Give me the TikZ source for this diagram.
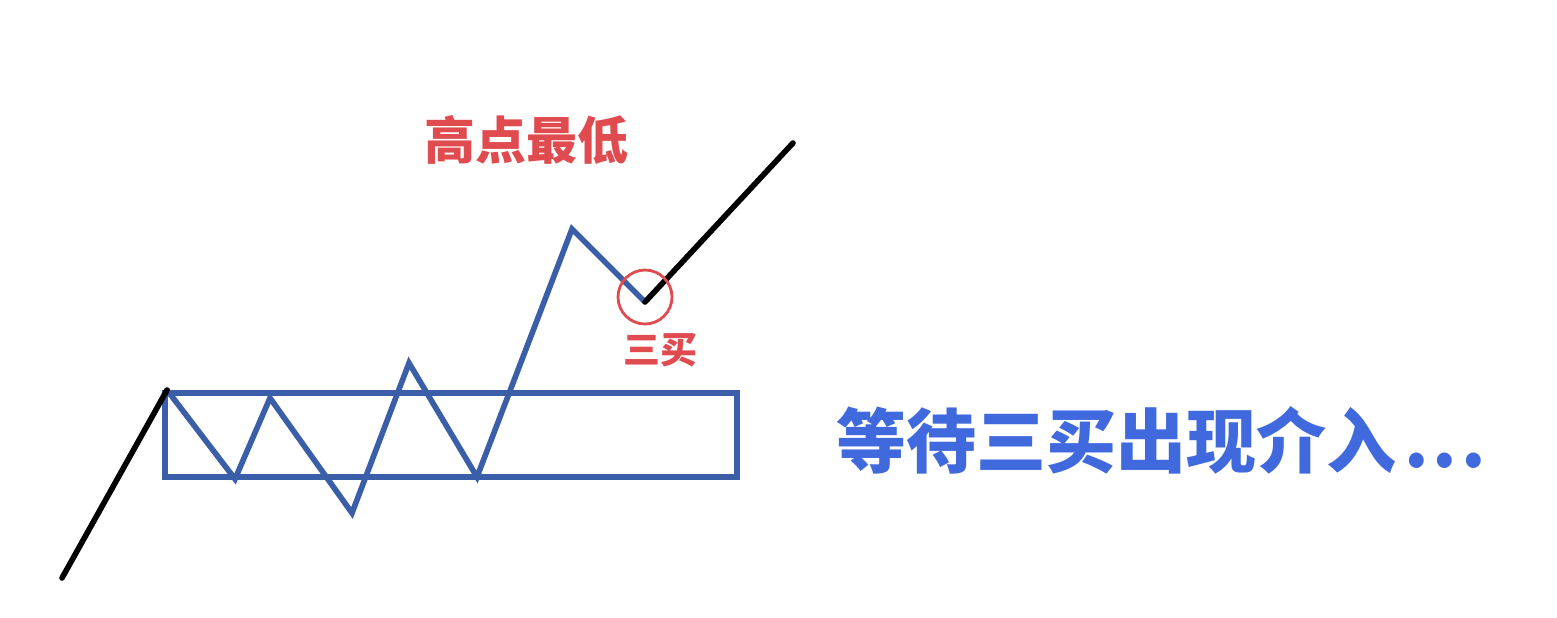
\documentclass[tikz,border=0pt]{standalone}
\usepackage{fontspec}
\newfontfamily\cjk{Noto Sans CJK SC}
\definecolor{lineblue}{HTML}{3A5EA8}
\definecolor{txtblue}{HTML}{4069DE}
\definecolor{txtred}{HTML}{E04B4F}
\begin{document}
\begin{tikzpicture}[x=0.5pt,y=-0.5pt,
  bl/.style={draw=lineblue,line width=2.8pt,line join=miter},
  bk/.style={draw=black,line width=2.8pt,line cap=round},
  lbl/.style={inner sep=0pt,font=\cjk\bfseries}]
\useasboundingbox[fill=white] (0,0) rectangle (1557,617);
\coordinate (s) at (62,578);
\coordinate (p0) at (167,390);
\coordinate (p1) at (235,479);
\coordinate (p2) at (270,398);
\coordinate (p3) at (352,513);
\coordinate (p4) at (409,363);
\coordinate (p5) at (477,477);
\coordinate (p6) at (572,229);
\coordinate (p7) at (645,302);
\coordinate (e) at (793,143);
\draw[bl] (165,393) rectangle (737,477);
\draw[bl] (p0) -- (p1) -- (p2) -- (p3) -- (p4) -- (p5) -- (p6) -- (p7);
\draw[bk] (s) -- (p0);
\draw[bk] (p7) -- (e);
\node[draw=txtred,line width=1.4pt,circle,minimum size=27pt,inner sep=0pt] (c) at (645,297) {};
\node[lbl,text=txtred,font=\cjk\bfseries\fontsize{18.5}{18.5}\selectfont] (l1) at (660,350) {三买};
\node[lbl,text=txtred,font=\cjk\bfseries\fontsize{25.5}{25.5}\selectfont] (l2) at (526,140) {高点最低};
\node[lbl,text=txtblue,font=\cjk\bfseries\fontsize{35}{35}\selectfont,anchor=west] (l3) at (836,440) {等待三买出现介入\kern4pt.\kern2pt.\kern2pt.};
\end{tikzpicture}
\end{document}
